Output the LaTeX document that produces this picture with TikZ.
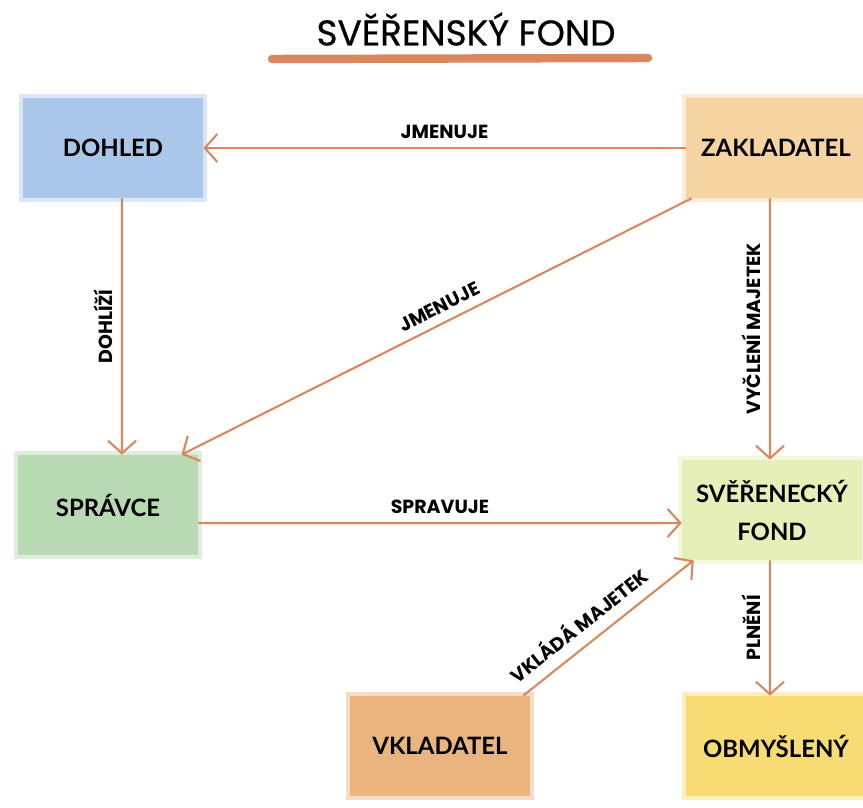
\documentclass[tikz,border=0pt]{standalone}
\usepackage{fontspec}
\setmainfont{Lato}
\newfontfamily\titlefont{Poppins}
\newfontfamily\headfont[FakeBold=0.6]{Poppins}
\usetikzlibrary{arrows.meta}

\definecolor{pen}{HTML}{D9875F}
\definecolor{cdohled}{HTML}{AAC7E9}
\definecolor{czakl}{HTML}{F5D4A2}
\definecolor{cspravce}{HTML}{B7DAB2}
\definecolor{cfond}{HTML}{E7EFB8}
\definecolor{cvklad}{HTML}{E9B47E}
\definecolor{cobmys}{HTML}{F6DC72}

\begin{document}
\begin{tikzpicture}
[x=0.025cm,y=-0.025cm,
 box/.style={fill=#1,preaction={draw=#1!45!white,line width=5pt},
   minimum width=4.5cm,minimum height=2.5cm,align=center,
   font=\fontsize{17}{27}\selectfont\bfseries},
 link/.style={draw=pen,line width=1.5pt,-{Straight Barb[length=9pt,width=20pt]}},
 lab/.style={font=\titlefont\fontsize{13.5}{15}\selectfont\bfseries,inner sep=6pt}]
\useasboundingbox (0,0) rectangle (863,808);

% title
\node[font=\headfont\fontsize{25.5}{30}\selectfont] (title) at (466,29) {SVĚŘENSKÝ FOND};
\draw[pen,line width=6pt,line cap=round] (272,59) -- (648,58);

% boxes
\node[box=cdohled] (dohled) at (113,148) {DOHLED};
\node[box=czakl] (zakl) at (776,148) {ZAKLADATEL};
\node[box=cspravce] (spravce) at (108,505) {SPRÁVCE};
\node[box=cfond] (fond) at (772,510) {SVĚŘENECKÝ\\FOND};
\node[box=cvklad] (vklad) at (440,746) {VKLADATEL};
\node[box=cobmys] (obmys) at (776,746) {OBMYŠLENÝ};

% connectors
\draw[link] (zakl.west) -- node[lab,above] {JMENUJE} (dohled.east);
\draw[link] ([xshift=0.225cm]dohled.south) -- node[lab,rotate=90,above] {DOHLÍŽÍ} ([xshift=0.35cm]spravce.north);
\draw[link] ([xshift=0.15cm]zakl.south west) -- node[lab,sloped,above,pos=0.48] {JMENUJE} ([xshift=-0.42cm]spravce.north east);
\draw[link] ([xshift=-0.15cm]zakl.south) -- node[lab,rotate=90,above] {VYČLENÍ MAJETEK} ([xshift=-0.05cm]fond.north);
\draw[link] ([yshift=-0.45cm]spravce.east) -- node[lab,above] {SPRAVUJE} ([yshift=-0.325cm]fond.west);
\draw[link] ([xshift=-0.18cm]vklad.north east) -- node[lab,sloped,above,pos=0.4,inner sep=8pt] {VKLÁDÁ MAJETEK} ([xshift=0.3cm]fond.south west);
\draw[link] ([xshift=-0.05cm]fond.south) -- node[lab,rotate=90,above] {PLNĚNÍ} ([xshift=-0.15cm]obmys.north);
\end{tikzpicture}
\end{document}
